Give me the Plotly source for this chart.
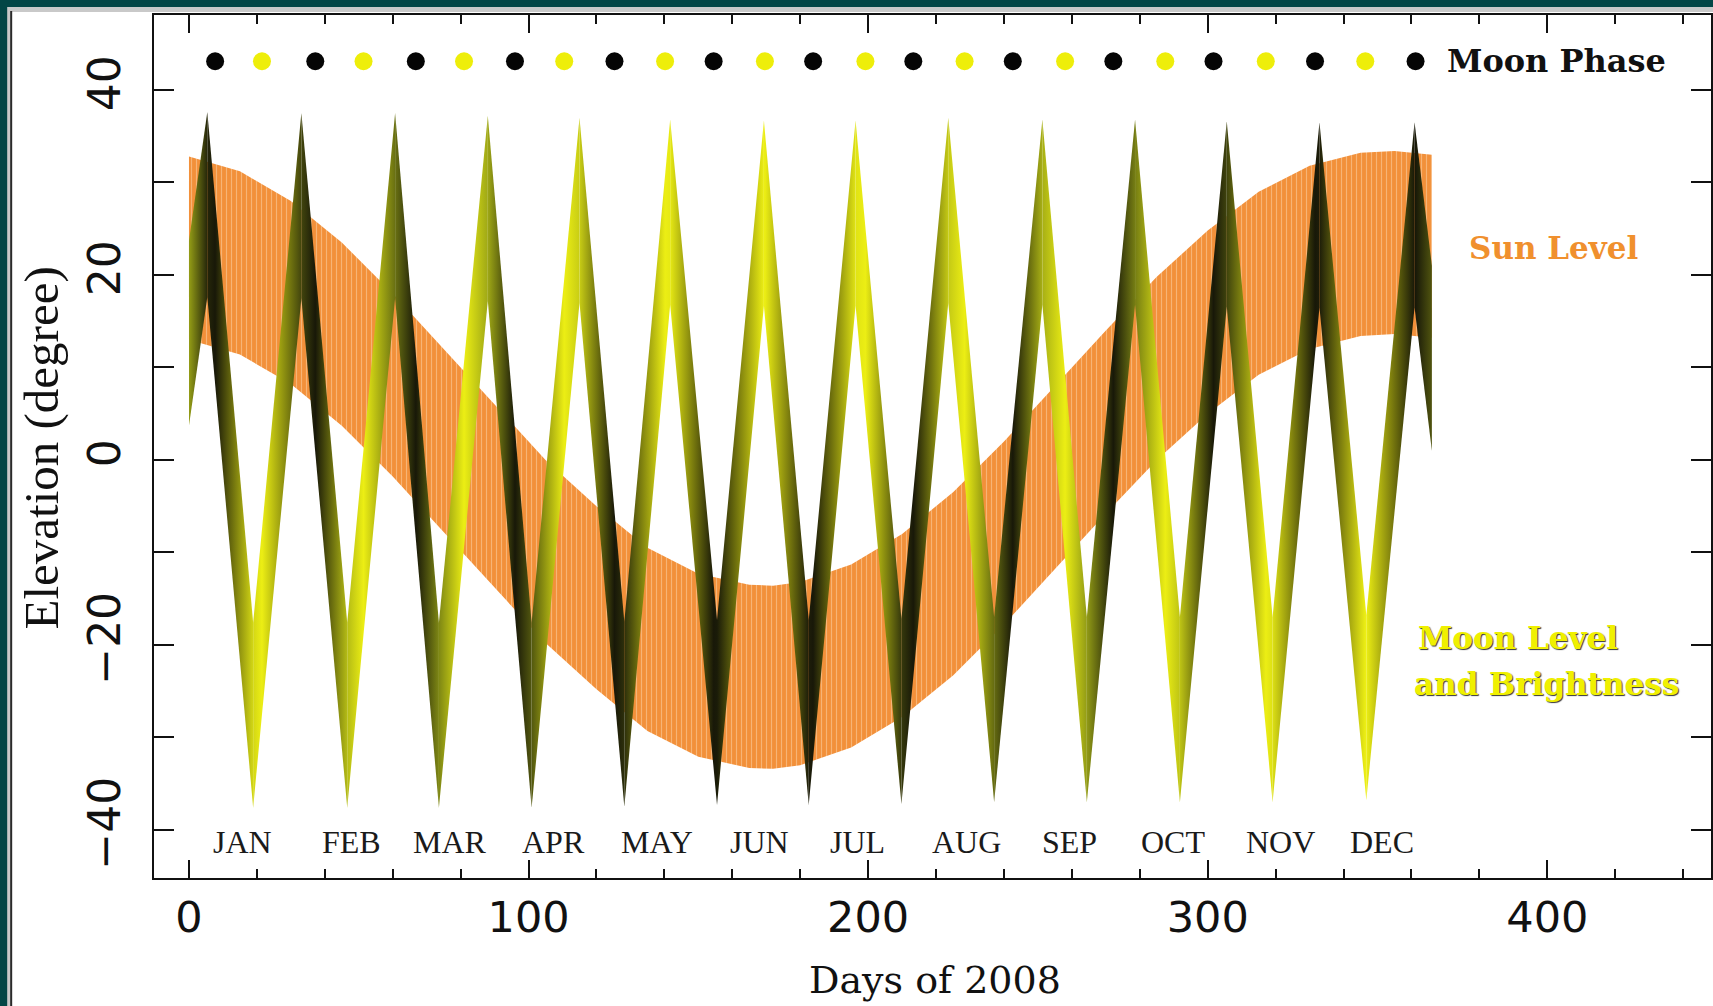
import plotly.graph_objects as go

# ---------------- data ----------------
# Sun level band (upper / lower envelope, degrees) vs day of 2008
sun_days = [0, 15, 30, 45, 60, 75, 90, 105, 120, 135, 150, 165, 172, 180, 195, 210, 225, 240, 255, 270, 285, 300, 315, 330, 345, 355, 366]
sun_top = [32.8, 31.2, 28.0, 23.5, 18.0, 12.0, 6.0, 0.0, -5.0, -9.5, -12.3, -13.5, -13.6, -13.2, -11.3, -8.0, -3.5, 2.0, 8.0, 14.0, 19.8, 24.8, 29.0, 31.8, 33.2, 33.4, 33.0]
sun_bottom = [13.0, 11.4, 8.2, 3.7, -1.8, -7.8, -13.8, -19.8, -24.8, -29.3, -32.1, -33.3, -33.4, -33.0, -31.1, -27.8, -23.3, -17.8, -11.8, -5.8, 0.0, 5.0, 9.2, 12.0, 13.4, 13.6, 13.2]

# Moon level band: turning points (peaks / troughs) with band top / bottom and brightness (0 = new, 1 = full)
moon_days = [0, 5.4, 18.9, 33.1, 46.6, 60.7, 73.6, 88.0, 100.9, 115.0, 128.2, 141.7, 155.5, 169.3, 182.5,
             196.3, 209.8, 223.6, 237.1, 251.3, 264.4, 278.6, 291.8, 305.6, 319.1, 332.9, 346.7, 360.9, 366]
moon_top = [23.7, 37.6, -17.6, 37.5, -17.6, 37.5, -17.6, 37.2, -17.6, 37.0, -17.5, 36.8, -17.3, 36.7, -17.3,
            36.7, -17.2, 37.0, -17.0, 36.8, -17.0, 36.8, -17.0, 36.6, -17.0, 36.5, -16.8, 36.5, 21.0]
moon_bottom = [3.7, 17.6, -37.6, 17.5, -37.6, 17.5, -37.6, 17.2, -37.6, 17.0, -37.5, 16.8, -37.3, 16.7, -37.3,
               16.7, -37.2, 17.0, -37.0, 16.8, -37.0, 16.8, -37.0, 16.6, -37.0, 16.5, -36.8, 16.5, 1.0]
moon_bright = [0.54, 0.06, 0.87, 0.18, 0.71, 0.35, 0.44, 0.60, 0.25, 0.81, 0.09, 0.97, 0.01, 1.00, 0.02,
               0.94, 0.13, 0.79, 0.33, 0.64, 0.53, 0.40, 0.76, 0.17, 0.92, 0.02, 1.00, 0.00, 0.24]

# Moon phase markers
new_moon_days = [7.7, 37.2, 66.8, 96.0, 125.3, 154.5, 183.8, 213.3, 242.6, 272.2, 301.7, 331.6, 361.2]
full_moon_days = [21.5, 51.4, 81.0, 110.5, 140.2, 169.6, 199.2, 228.4, 258.0, 287.5, 317.1, 346.4]
phase_level = 43.1

# Month labels
months = ["JAN", "FEB", "MAR", "APR", "MAY", "JUN", "JUL", "AUG", "SEP", "OCT", "NOV", "DEC"]
month_pos = [15.7, 47.9, 76.8, 107.3, 137.8, 168.1, 197.0, 229.1, 259.3, 289.8, 321.3, 351.2]
month_level = -41.3

x_ticks = [0, 100, 200, 300, 400]
y_ticks = [-40, -20, 0, 20, 40]
y_ticktext = ["\u221240", "\u221220", "0", "20", "40"]

# ---------------- styling helpers ----------------
BRIGHT_STOPS = [(0.0, (24, 24, 8)), (0.5, (140, 150, 22)), (1.0, (236, 238, 20))]


def bright_color(b):
    b = max(0.0, min(1.0, b))
    for (p0, c0), (p1, c1) in zip(BRIGHT_STOPS[:-1], BRIGHT_STOPS[1:]):
        if p0 <= b <= p1:
            t = (b - p0) / (p1 - p0)
            c = [round(c0[i] + (c1[i] - c0[i]) * t) for i in range(3)]
            return "rgb(%d,%d,%d)" % tuple(c)
    return "rgb(%d,%d,%d)" % BRIGHT_STOPS[-1][1]


fig = go.Figure()

# Sun band (orange with thin light vertical streaks)
fig.add_trace(go.Scatter(
    x=sun_days + sun_days[::-1],
    y=sun_top + sun_bottom[::-1],
    mode="lines", line=dict(width=0, color="#f28c36"),
    fill="toself", fillcolor="#f28c36",
    fillpattern=dict(shape="|", fgcolor="#fcd8b2", bgcolor="#f2903a", size=5, solidity=0.22),
    hoverinfo="skip", showlegend=False,
))

# Moon band segments, coloured by brightness
events = [(d, 0.0) for d in new_moon_days] + [(d, 1.0) for d in full_moon_days]
for i in range(len(moon_days) - 1):
    d0, d1 = moon_days[i], moon_days[i + 1]
    stops = [[0.0, bright_color(moon_bright[i])]]
    for d, b in sorted(events):
        if d0 < d < d1:
            stops.append([(d - d0) / (d1 - d0), bright_color(b)])
    stops.append([1.0, bright_color(moon_bright[i + 1])])
    fig.add_trace(go.Scatter(
        x=[d0, d1, d1, d0, d0],
        y=[moon_top[i], moon_top[i + 1], moon_bottom[i + 1], moon_bottom[i], moon_top[i]],
        mode="lines", line=dict(width=0, color=bright_color(moon_bright[i])),
        fill="toself",
        fillgradient=dict(type="horizontal", colorscale=stops),
        hoverinfo="skip", showlegend=False,
    ))

# Moon phase dots
fig.add_trace(go.Scatter(
    x=new_moon_days, y=[phase_level] * len(new_moon_days), mode="markers",
    marker=dict(size=18, color="#050505"), showlegend=False, hoverinfo="skip"))
fig.add_trace(go.Scatter(
    x=full_moon_days, y=[phase_level] * len(full_moon_days), mode="markers",
    marker=dict(size=18, color="#eeee0a"), showlegend=False, hoverinfo="skip"))

annotations = []
for m, p in zip(months, month_pos):
    annotations.append(dict(x=p, y=month_level, xref="x", yref="y", text=m, showarrow=False,
                            font=dict(family="Liberation Serif", size=32, color="#1a1a1a")))

annotations += [
    dict(x=370, y=phase_level, xref="x", yref="y", text="Moon Phase", showarrow=False, xanchor="left",
         font=dict(family="DejaVu Serif", size=32, color="#111111", weight="bold")),
    dict(x=401.8, y=22.9, xref="x", yref="y", text="Sun Level", showarrow=False,
         font=dict(family="DejaVu Serif", size=31, color="#f0902e", weight="bold")),
    dict(x=391.4, y=-19.2, xref="x", yref="y", text="Moon Level", showarrow=False,
         font=dict(family="DejaVu Serif", size=31, color="#f0f000", weight="bold",
                   shadow="1px 1px 1px #333333")),
    dict(x=399.7, y=-24.2, xref="x", yref="y", text="and Brightness", showarrow=False,
         font=dict(family="DejaVu Serif", size=31, color="#f0f000", weight="bold",
                   shadow="1px 1px 1px #333333")),
    dict(x=219.7, y=-0.146, xref="x", yref="paper", text="Days of 2008", showarrow=False,
         xanchor="center", yanchor="bottom",
         font=dict(family="DejaVu Serif", size=38, color="#111111")),
    dict(x=-0.0722, y=1.3, xref="paper", yref="y", text="Elevation (degree)", showarrow=False,
         xanchor="center", yanchor="middle",
         textangle=-90, font=dict(family="Liberation Serif", size=49, color="#111111")),
]

# frame of the screenshot (teal border on top / left)
PW, PH, L, T, B = 1559.0, 863.0, 154.0, 15.0, 878.0


def px_x(px):
    return (px - L) / PW


def px_y(py):
    return (B - py) / PH


shapes = [
    dict(type="rect", xref="paper", yref="paper", x0=px_x(-5), x1=px_x(11), y0=px_y(1010), y1=px_y(-5),
         fillcolor="#c9c9c9", line=dict(width=0), layer="above"),
    dict(type="rect", xref="paper", yref="paper", x0=px_x(-5), x1=px_x(1720), y0=px_y(12), y1=px_y(-5),
         fillcolor="#c9c9c9", line=dict(width=0), layer="above"),
    dict(type="rect", xref="paper", yref="paper", x0=px_x(-5), x1=px_x(7), y0=px_y(1010), y1=px_y(-5),
         fillcolor="#034646", line=dict(width=0), layer="above"),
    dict(type="rect", xref="paper", yref="paper", x0=px_x(-5), x1=px_x(1720), y0=px_y(7), y1=px_y(-5),
         fillcolor="#034646", line=dict(width=0), layer="above"),
    dict(type="rect", xref="paper", yref="paper", x0=px_x(10), x1=px_x(12), y0=px_y(1010), y1=px_y(11),
         fillcolor="#2a2a2a", line=dict(width=0), layer="above"),
]

fig.update_layout(
    width=1713, height=1006, autosize=False,
    margin=dict(l=154, r=0, t=15, b=128, pad=0),
    paper_bgcolor="white", plot_bgcolor="white",
    showlegend=False,
    annotations=annotations,
    shapes=shapes,
    xaxis=dict(range=[-10.3, 448.2], showgrid=False, zeroline=False,
               showline=True, linecolor="#111111", linewidth=2, mirror="ticks",
               ticks="inside", ticklen=18, tickwidth=2, tickcolor="#111111",
               tickvals=x_ticks, ticktext=[str(v) for v in x_ticks],
               tickfont=dict(family="DejaVu Sans", size=43, color="#111111"),
               ticklabelstandoff=0,
               minor=dict(dtick=20, tick0=0, ticks="inside", ticklen=9, tickwidth=2, tickcolor="#111111")),
    yaxis=dict(range=[-45.2, 48.1], showgrid=False, zeroline=False,
               showline=True, linecolor="#111111", linewidth=2, mirror="ticks",
               ticks="inside", ticklen=20, tickwidth=2, tickcolor="#111111",
               tickvals=y_ticks, ticktext=y_ticktext, tickangle=-90,
               tickfont=dict(family="DejaVu Sans", size=44, color="#111111"),
               ticklabelstandoff=14,
               minor=dict(dtick=10, tick0=0, ticks="inside", ticklen=20, tickwidth=2, tickcolor="#111111")),
)

fig.write_html("out.html")
